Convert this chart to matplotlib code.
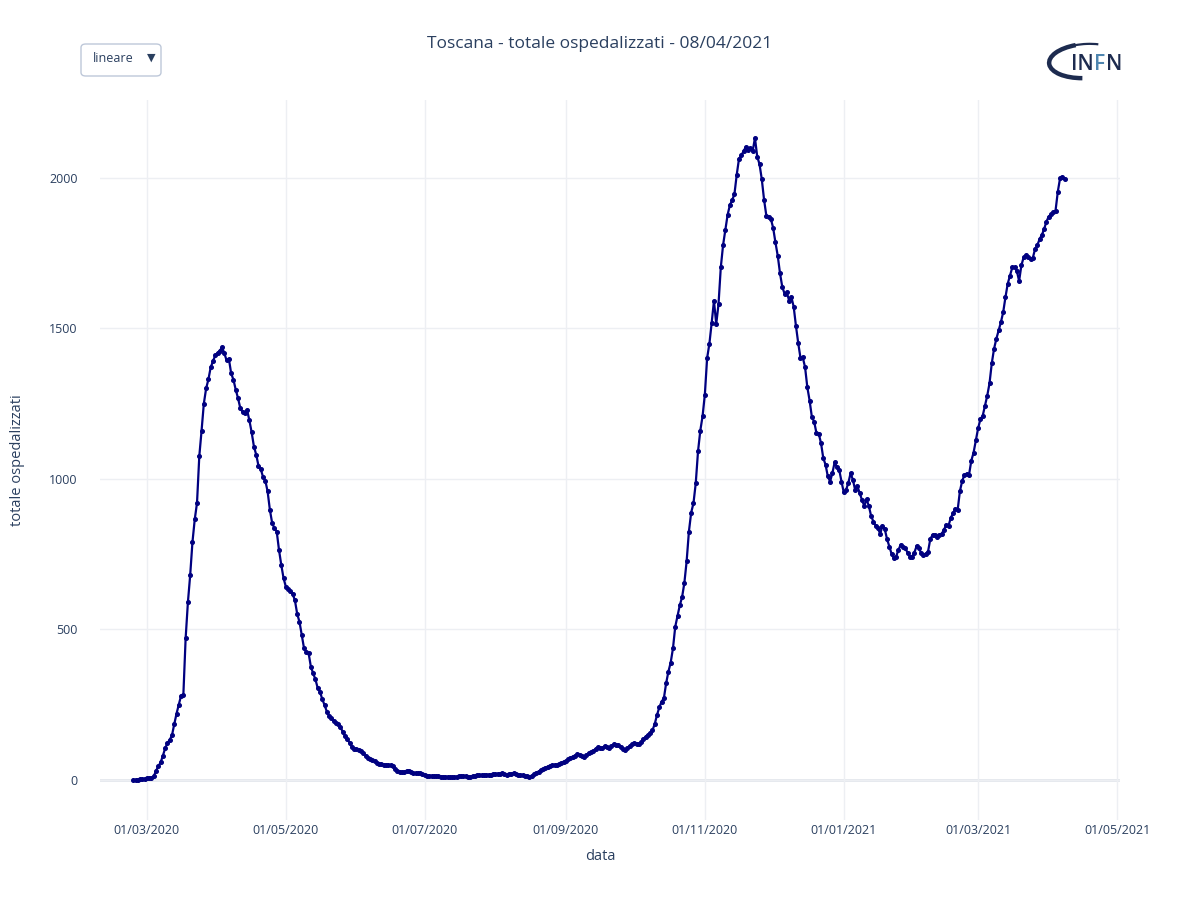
import pandas as pd
import matplotlib
matplotlib.use("Agg")
import matplotlib.pyplot as plt
import matplotlib.dates as mdates
from matplotlib.patches import FancyBboxPatch, Arc

plt.rcParams['font.family'] = ['Open Sans', 'DejaVu Sans']

TEXT = '#2a3f5f'
LINE = '#000080'

start_date = "2020-02-24"

# totale ospedalizzati, daily values
wave1 = [0, 0, 1, 2, 2, 4, 5, 5, 7, 12,
         30, 45, 58, 80, 105, 122, 133, 148, 185, 220,
         250, 280, 282, 470, 590, 680, 790, 865, 920, 1075,
         1160, 1250, 1300, 1330, 1370, 1390, 1410, 1418, 1425, 1437,
         1417, 1393, 1398, 1350, 1329, 1296, 1268, 1235, 1222, 1218,
         1228, 1194, 1154, 1107, 1080, 1043, 1032, 1006, 994, 958,
         897, 853, 836, 825, 764, 714, 670, 642, 634, 626,
         618, 596, 551, 525, 482, 437, 426, 421, 376, 354,
         334, 305, 293, 268, 249, 227, 213, 205, 197, 188,
         186, 175, 160, 146, 135, 124, 109, 104, 102, 100]
summer = [96, 88, 80, 72, 70, 66, 62, 57, 54, 52,
          50, 50, 49, 48, 46, 36, 31, 28, 25, 27,
          30, 31, 27, 23, 22, 22, 22, 20, 16, 14,
          14, 13, 13, 12, 12, 11, 11, 11, 10, 9,
          9, 10, 11, 12, 13, 12, 12, 11, 11, 13,
          14, 15, 15, 16, 16, 17, 17, 18, 19, 19,
          20, 21, 22, 20, 18, 19, 21, 22, 20, 18,
          17, 15, 13, 12, 11, 14, 19, 24, 28, 33,
          37, 40, 44, 47, 49, 50, 51, 52, 55, 60,
          64, 68, 72, 77, 81, 85, 83, 79, 77, 83,
          89, 93, 97, 103, 109, 107, 105, 112, 110, 107,
          113, 118, 117, 116, 108, 104, 100, 107, 113, 118,
          122, 121, 120, 125, 135, 144, 150, 157, 165, 186]
wave2 = [216, 241, 260, 271, 321, 360, 390, 437, 509, 545,
         580, 607, 654, 726, 825, 888, 919, 985, 1091, 1160,
         1208, 1280, 1401, 1449, 1518, 1591, 1514, 1580, 1702, 1776,
         1826, 1877, 1909, 1925, 1946, 2010, 2063, 2074, 2088, 2102,
         2091, 2099, 2088, 2132, 2070, 2045, 1995, 1927, 1874, 1869,
         1863, 1833, 1785, 1741, 1683, 1637, 1615, 1619, 1592, 1603,
         1572, 1508, 1451, 1401, 1403, 1371, 1304, 1260, 1205, 1190,
         1152, 1150, 1119, 1069, 1047, 1008, 991, 1019, 1055, 1038]
winter = [1030, 991, 955, 963, 986, 1019, 997, 963, 975, 952,
          930, 910, 932, 910, 877, 858, 844, 836, 817, 844,
          833, 800, 775, 751, 737, 742, 764, 781, 775, 770,
          755, 742, 742, 755, 777, 770, 753, 748, 751, 758,
          800, 814, 814, 808, 814, 817, 831, 847, 844, 871]
wave3 = [885, 901, 896, 959, 993, 1013, 1017, 1013, 1060, 1087,
         1128, 1168, 1198, 1209, 1243, 1276, 1317, 1384, 1432, 1465,
         1493, 1520, 1553, 1603, 1648, 1675, 1702, 1702, 1690, 1657,
         1709, 1736, 1743, 1736, 1729, 1733, 1763, 1776, 1796, 1810,
         1830, 1854, 1871, 1878, 1885, 1891, 1954, 1999, 2003, 1995]

values = wave1 + summer + wave2 + winter + wave3
dates = pd.date_range(start_date, periods=len(values), freq="D")

y_ticks = [0, 500, 1000, 1500, 2000]
x_ticks = pd.date_range("2020-03-01", "2021-05-01", freq="2MS")

fig = plt.figure(figsize=(12, 9), dpi=100)
ax = fig.add_axes([100 / 1200, 80 / 900, 1020 / 1200, 720 / 900])

ax.plot(dates, values, color=LINE, linewidth=1.6, marker='o', markersize=2.6,
        zorder=3)

ax.set_ylim(-133, 2258)
x0 = mdates.date2num(pd.Timestamp("2020-03-01"))
ax.set_xlim(x0 - 20.6, x0 + 427.3)

ax.set_yticks(y_ticks)
ax.set_xticks(x_ticks)
ax.xaxis.set_major_formatter(mdates.DateFormatter("%d/%m/%Y"))
ax.grid(True, color='#EDEFF3', linewidth=1)
ax.axhline(0, color='#E2E6EC', linewidth=2, zorder=1)
for s in ax.spines.values():
    s.set_visible(False)
ax.tick_params(length=0, labelsize=9, labelcolor=TEXT)
ax.tick_params(axis='x', pad=3)
ax.tick_params(axis='y', pad=16)

fig.text(600 / 1200, 1 - 44 / 900, "Toscana - totale ospedalizzati - 08/04/2021",
         ha='center', va='center', fontsize=12.5, color=TEXT)
fig.text(600 / 1200, 1 - 856 / 900, "data", ha='center', va='center',
         fontsize=10.5, color=TEXT)
fig.text(18 / 1200, 1 - 460 / 900, "totale ospedalizzati", ha='center',
         va='center', rotation=90, fontsize=10.5, color=TEXT)

# dropdown button
box = FancyBboxPatch((81 / 1200, 1 - 76 / 900), 80 / 1200, 32 / 900,
                     boxstyle="round,pad=0,rounding_size=0.004",
                     transform=fig.transFigure, facecolor='white',
                     edgecolor='#BEC8D9', linewidth=1)
fig.add_artist(box)
fig.text(113 / 1200, 1 - 59 / 900, "lineare", ha='center', va='center',
         fontsize=9, color=TEXT)
fig.text(151 / 1200, 1 - 58 / 900, "▼", ha='center', va='center',
         fontsize=8, color=TEXT)

# INFN logo
center = (1086 / 1200, 1 - 61 / 900)
swoosh = Arc(center, 74 / 1200, 34 / 900, angle=6,
             theta1=110, theta2=255, transform=fig.transFigure,
             color='#1d2b4f', linewidth=3.2)
fig.add_artist(swoosh)
swoosh2 = Arc(center, 74 / 1200, 34 / 900, angle=6,
              theta1=55, theta2=112, transform=fig.transFigure,
              color='#1d2b4f', linewidth=1.6)
fig.add_artist(swoosh2)

# letters placed one after the other using their measured widths
renderer = fig.canvas.get_renderer()
xpos = 1071
for part, col in [("IN", '#1d2b4f'), ("F", '#4f86b0'), ("N", '#1d2b4f')]:
    t = fig.text(xpos / 1200, 1 - 64 / 900, part, ha='left', va='center',
                 fontsize=15, fontweight='semibold', color=col)
    xpos += t.get_window_extent(renderer).width + 0.5

fig.savefig("out.png", dpi=100)
